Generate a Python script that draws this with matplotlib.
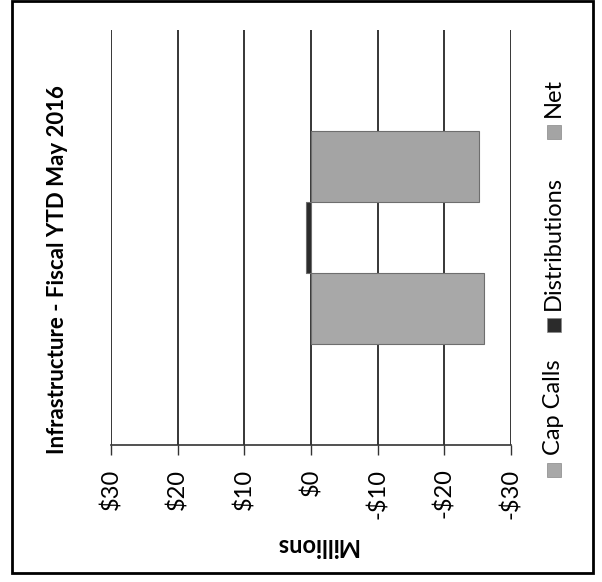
"""Infrastructure fiscal YTD cash flows, drawn as the rotated bar chart."""

import matplotlib

matplotlib.use("Agg")
import matplotlib.pyplot as plt
from matplotlib.patches import Rectangle

# data ($ millions)
series = ["Cap Calls", "Distributions", "Net"]
values = [-26.0, 0.8, -25.2]
colors = ["#a8a8a8", "#2b2b2b", "#a4a4a4"]
ticks = [30, 20, 10, 0, -10, -20, -30]
tick_labels = ["$30", "$20", "$10", "$0", "-$10", "-$20", "-$30"]

W, H = 602, 582
plt.rcParams["font.family"] = ["Lato", "DejaVu Sans"]


def fx(px):
    return px / W


def fy(py):
    return 1 - py / H


fig = plt.figure(figsize=(W / 100, H / 100), dpi=100)

# plot area in pixels: x 111-511, y 30-445
ax = fig.add_axes([fx(111), fy(445), fx(511) - fx(111), fy(30) - fy(445)])
bar_h = 0.171
offsets = [-bar_h, 0.0, bar_h]
for name, val, col, off in zip(series, values, colors, offsets):
    ax.barh(off, val, height=bar_h, color=col, edgecolor="#6e6e6e", linewidth=0.8, zorder=3)

ax.set_xlim(30, -30)
ax.set_ylim(-0.5, 0.5)
ax.set_xticks(ticks)
ax.set_xticklabels(tick_labels, rotation=90, fontsize=17)
ax.set_yticks([])
ax.grid(axis="x", color="black", linewidth=1.1, zorder=0)
for side in ["top", "right", "left"]:
    ax.spines[side].set_visible(False)
ax.spines["bottom"].set_color("#333333")
ax.spines["bottom"].set_linewidth(1.2)
ax.tick_params(axis="x", direction="out", length=7, width=1, color="#333333", pad=10)

# title and axis label
fig.text(fx(58), fy(270), "Infrastructure - Fiscal YTD May 2016", rotation=90,
         ha="center", va="center", fontsize=16, fontweight="bold")
fig.text(fx(316), fy(546), "Millions", rotation=180, ha="center", va="center",
         fontsize=17, fontweight="bold")

# legend, drawn by hand because it is rotated
marker_y = [470, 325, 132]
text_y = [455, 310, 117]
for name, col, my, ty in zip(series, colors, marker_y, text_y):
    fig.patches.append(Rectangle((fx(547), fy(my + 7)), fx(14), 14 / H, transform=fig.transFigure,
                                 facecolor=col, edgecolor="#888888", linewidth=0.5))
    fig.text(fx(553), fy(ty), name, rotation=90, ha="center", va="bottom", fontsize=17)

# chart frame
fig.patches.append(Rectangle((fx(12), fy(573)), fx(593) - fx(12), fy(1) - fy(573),
                             transform=fig.transFigure, fill=False, edgecolor="black", linewidth=2))

fig.savefig("out.png", dpi=100)
